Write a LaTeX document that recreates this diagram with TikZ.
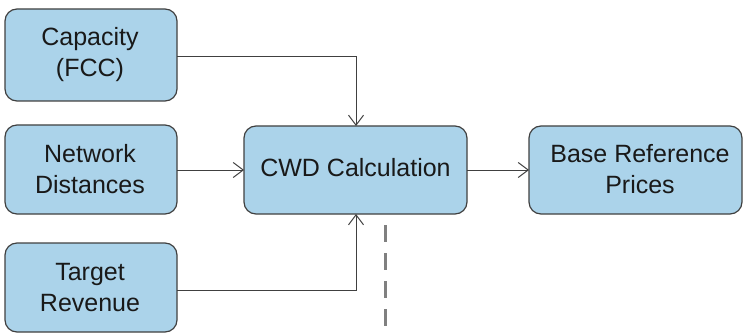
\documentclass[tikz,border=0pt]{standalone}
\usepackage{fontspec}
\setmainfont{Liberation Sans}
\usetikzlibrary{arrows.meta}
\begin{document}
\begin{tikzpicture}[x=1pt,y=-1pt,
  blk/.style={draw=black!75,line width=1.2pt,fill=boxblue,rounded corners=12pt,inner sep=0pt},
  lbl/.style={font=\fontsize{25}{31}\selectfont,align=center,text=black!90},
  conn/.style={draw=black!75,line width=1pt,-{Straight Barb[length=10pt,width=15pt,line width=1pt]}}]
\definecolor{boxblue}{HTML}{ABD3EA}
\useasboundingbox (0,0) rectangle (744,334);
\path[blk] (5,9) rectangle (177,101);
\node[lbl] (cap) at (90,55) {Capacity\\(FCC)};
\path[blk] (5,125) rectangle (177,214);
\node[lbl] (net) at (90,169) {Network\\Distances};
\path[blk] (5,243) rectangle (177,332);
\node[lbl] (tar) at (90,288) {Target\\Revenue};
\path[blk] (244,126) rectangle (467,214);
\node[lbl] (cwd) at (355.5,168) {CWD Calculation};
\path[blk] (529,126) rectangle (742,214);
\node[lbl] (base) at (640,169) {Base Reference\\Prices};
\coordinate (capR) at (177,57);
\coordinate (netR) at (177,170);
\coordinate (tarR) at (177,290);
\coordinate (cwdT) at (356,126);
\coordinate (cwdB) at (356,214);
\coordinate (cwdL) at (244,170);
\coordinate (cwdR) at (467,170);
\coordinate (baseL) at (529,170);
\draw[conn] (capR) -| (cwdT);
\draw[conn] (netR) -- (cwdL);
\draw[conn] (tarR) -| (cwdB);
\draw[conn] (cwdR) -- (baseL);
\coordinate (d1) at (385,225);
\coordinate (d2) at (385,334);
\draw[draw=black!50,line width=3pt,dash pattern=on 17pt off 11pt] (d1) -- (d2);
\end{tikzpicture}
\end{document}
